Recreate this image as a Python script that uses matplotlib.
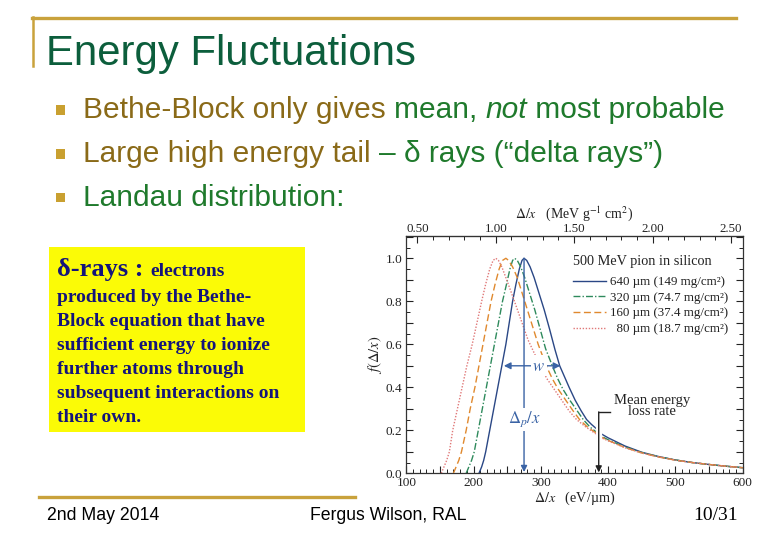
import matplotlib
matplotlib.use("Agg")
import matplotlib.pyplot as plt
import matplotlib.lines as mlines
import matplotlib.patches as mpatches
from matplotlib.ticker import MultipleLocator, FuncFormatter, FixedLocator

plt.rcParams['mathtext.fontset'] = 'stix'

W, H = 780, 540

# ---------------- data ----------------
x640 = [208, 212, 215, 218, 224, 230, 236, 242, 248, 253, 258, 263, 268, 272, 275, 279, 284, 290,
        297, 305, 313, 321, 328, 335, 342, 351, 360, 368, 375, 382, 390, 400, 425, 450, 475, 500,
        525, 550, 575, 600]
f640 = [0.0, 0.03, 0.06, 0.10, 0.20, 0.30, 0.40, 0.50, 0.60, 0.70, 0.80, 0.88, 0.95, 0.99, 1.0,
        0.99, 0.96, 0.91, 0.84, 0.76, 0.67, 0.575, 0.50, 0.45, 0.40, 0.34, 0.29, 0.25, 0.228,
        0.209, 0.183, 0.165, 0.127, 0.098, 0.078, 0.062, 0.050, 0.041, 0.033, 0.026]

x320 = [189, 193, 197, 201, 207, 213, 219, 225, 231, 237, 243, 249, 254, 258, 261, 265, 270, 276,
        283, 291, 299, 307, 317, 325, 333, 343, 353, 363, 373, 382, 390, 400, 425, 450, 475, 500,
        525, 550, 575, 600]
f320 = [0.0, 0.03, 0.06, 0.10, 0.20, 0.30, 0.40, 0.50, 0.60, 0.70, 0.80, 0.88, 0.95, 0.99, 1.0,
        0.99, 0.96, 0.91, 0.84, 0.76, 0.67, 0.58, 0.50, 0.44, 0.39, 0.34, 0.295, 0.25, 0.215,
        0.193, 0.172, 0.156, 0.122, 0.096, 0.077, 0.062, 0.050, 0.041, 0.033, 0.026]

x160 = [170, 174, 178, 182, 189, 195, 202, 208, 214, 220, 226, 232, 238, 243, 248, 252, 258, 265,
        272, 279, 287, 296, 308, 317, 326, 337, 348, 358, 370, 382, 390, 400, 425, 450, 475, 500,
        525, 550, 575, 600]
f160 = [0.0, 0.03, 0.06, 0.10, 0.20, 0.30, 0.40, 0.50, 0.60, 0.70, 0.80, 0.88, 0.95, 0.99, 1.0,
        0.99, 0.96, 0.91, 0.84, 0.77, 0.69, 0.60, 0.50, 0.44, 0.39, 0.34, 0.29, 0.248, 0.213,
        0.188, 0.168, 0.153, 0.120, 0.095, 0.076, 0.061, 0.050, 0.041, 0.033, 0.026]

x80 = [152, 156, 160, 164, 169, 176, 183, 190, 198, 205, 212, 218, 224, 229, 233, 237, 242, 248,
       255, 263, 272, 281, 290, 299, 309, 320, 331, 342, 353, 367, 382, 390, 400, 425, 450, 475,
       500, 525, 550, 575, 600]
f80 = [0.0, 0.03, 0.06, 0.10, 0.20, 0.30, 0.40, 0.50, 0.60, 0.70, 0.80, 0.88, 0.95, 0.99, 1.0,
       0.99, 0.96, 0.91, 0.85, 0.78, 0.70, 0.62, 0.56, 0.50, 0.44, 0.39, 0.34, 0.29, 0.25, 0.215,
       0.183, 0.165, 0.151, 0.119, 0.094, 0.076, 0.061, 0.050, 0.041, 0.033, 0.026]

series_labels = ["640 \u00b5m (149 mg/cm\u00b2)", "320 \u00b5m (74.7 mg/cm\u00b2)",
                 "160 \u00b5m (37.4 mg/cm\u00b2)", "  80 \u00b5m (18.7 mg/cm\u00b2)"]
legend_title = "500 MeV pion in silicon"
top_ticks = [0.5, 1.0, 1.5, 2.0, 2.5]

MPV_640 = 275          # most probable value, 640 um
W_LEFT, W_RIGHT = 245, 329   # full width at half maximum, 640 um
MEAN_LOSS = 386        # mean energy loss rate
DENSITY_FACTOR = 233.0  # eV/um per MeV g^-1 cm^2 (silicon)

bullets = [
    [("Bethe-Block only gives ", "#8a6a18", "normal"), ("mean, ", "#1f7a2c", "normal"),
     ("not", "#1f7a2c", "italic"), (" most probable", "#1f7a2c", "normal")],
    [("Large high energy tail ", "#8a6a18", "normal"),
     ("\u2013 \u03b4 rays (\u201cdelta rays\u201d)", "#1f7a2c", "normal")],
    [("Landau distribution:", "#1f7a2c", "normal")],
]
box_lines = ["produced by the Bethe-", "Block equation that have", "sufficient energy to ionize",
             "further atoms through", "subsequent interactions on", "their own."]

GOLD = "#c9a23c"

fig = plt.figure(figsize=(7.8, 5.4), dpi=100)
renderer = fig.canvas.get_renderer()


def fx(px):
    return px / W


def fy(py):
    return 1 - py / H


def text_width(s, **kw):
    t = fig.text(0, 0, s + "|", **kw)
    t2 = fig.text(0, 0, "|", **kw)
    w = t.get_window_extent(renderer).width - t2.get_window_extent(renderer).width
    t.remove()
    t2.remove()
    return w


# ---------------- slide decorations ----------------
fig.add_artist(mlines.Line2D([fx(32), fx(736)], [fy(17.5), fy(17.5)], color=GOLD, lw=2.4))
fig.add_artist(mlines.Line2D([fx(33), fx(33)], [fy(17), fy(66)], color=GOLD, lw=1.8))
fig.add_artist(mlines.Line2D([fx(39), fx(355)], [fy(496.5), fy(496.5)], color=GOLD, lw=2.4))

fig.text(fx(46), fy(65), "Energy Fluctuations", fontsize=30.2, family="Liberation Sans",
         color="#0c5e3c", va="baseline", ha="left")

bullet_base = [118.5, 162.5, 205.5]
for segs, yb in zip(bullets, bullet_base):
    fig.add_artist(mpatches.Rectangle((fx(56), fy(yb - 4)), 9 / W, 9 / H,
                                      transform=fig.transFigure, facecolor="#c9a030",
                                      edgecolor="none"))
    x = 83.0
    for s, c, st in segs:
        props = dict(fontsize=21.5, family="Liberation Sans", style=st)
        fig.text(fx(x), fy(yb), s, color=c, va="baseline", ha="left", **props)
        x += text_width(s, **props)

# yellow box
fig.add_artist(mpatches.Rectangle((fx(49), fy(432)), (305 - 49) / W, (432 - 247) / H,
                                  transform=fig.transFigure, facecolor="#fbfb06",
                                  edgecolor="none"))
NAVY = "#14147a"
p1 = dict(fontsize=19, family="Liberation Serif", weight="bold")
fig.text(fx(57), fy(276), "\u03b4-rays :", color=NAVY, va="baseline", **p1)
xw = 57 + text_width("\u03b4-rays : ", **p1)
fig.text(fx(xw), fy(276), "electrons", color=NAVY, va="baseline", fontsize=14,
         family="Liberation Serif", weight="bold")
for i, line in enumerate(box_lines):
    fig.text(fx(57), fy(301.5 + 24 * i), line, color=NAVY, va="baseline", fontsize=14,
             family="Liberation Serif", weight="bold")

# footer
fig.text(fx(47), fy(520), "2nd May 2014", fontsize=12.7, family="Liberation Sans",
         color="black", va="baseline")
fig.text(fx(310), fy(520), "Fergus Wilson, RAL", fontsize=12.7, family="Liberation Sans",
         color="black", va="baseline")
fig.text(fx(738), fy(520), "10/31", fontsize=14, family="Liberation Serif",
         color="black", va="baseline", ha="right")

# ---------------- chart ----------------
ax = fig.add_axes([406.3 / W, 1 - 473.3 / H, 336.4 / W, 237.6 / H])
ax.set_xlim(100, 600)
ax.set_ylim(0, 1.105)

styles = [
    dict(color="#2a4785", ls="-", lw=1.0),
    dict(color="#2e8a5c", ls=(0, (5, 1.5, 1, 1.5)), lw=1.0),
    dict(color="#e0892e", ls=(0, (5, 2.5)), lw=1.0),
    dict(color="#e07878", ls=(0, (1, 1.2)), lw=1.0),
]
handles = []
for (xs, ys), st, lab in zip([(x640, f640), (x320, f320), (x160, f160), (x80, f80)],
                             styles, series_labels):
    h, = ax.plot(xs, ys, label=lab, zorder=2, **st)
    handles.append(h)

TXT = "#222222"
BLUE = "#3a63a5"

# mean energy loss arrow (with white gap in curves)
ax.plot([MEAN_LOSS, MEAN_LOSS], [0.14, 0.26], color="white", lw=4.5, zorder=3,
        solid_capstyle="butt")
ax.plot([MEAN_LOSS, MEAN_LOSS + 17], [0.285, 0.285], color=TXT, lw=1.0, zorder=4)
ax.annotate("", xy=(MEAN_LOSS, 0.004), xytext=(MEAN_LOSS, 0.2855),
            arrowprops=dict(arrowstyle="-|>", color=TXT, lw=1.0, mutation_scale=9,
                            shrinkA=0, shrinkB=0), zorder=4)
ax.text(465, 0.312, "Mean energy\nloss rate", ha="center", va="center", fontsize=10.5,
        family="Liberation Serif", color=TXT, linespacing=0.8)

# most probable value arrow
ax.annotate("", xy=(MPV_640, 0.006), xytext=(MPV_640, 1.0),
            arrowprops=dict(arrowstyle="-|>", color=BLUE, lw=1.0, mutation_scale=9,
                            shrinkA=0, shrinkB=0), zorder=3)
ax.text(MPV_640, 0.25, r"$\Delta_p/x$", ha="center", va="center", fontsize=12, color=BLUE,
        zorder=5, bbox=dict(facecolor="white", edgecolor="none", pad=1.5))

# width arrow
ax.annotate("", xy=(W_LEFT, 0.5), xytext=(W_RIGHT, 0.5),
            arrowprops=dict(arrowstyle="<|-|>", color=BLUE, lw=1.0, mutation_scale=10,
                            shrinkA=0, shrinkB=0), zorder=3)
ax.text(297, 0.5, r"$w$", ha="center", va="center", fontsize=12, color=BLUE, zorder=5,
        bbox=dict(facecolor="white", edgecolor="none", pad=1.0))

# legend: title as text, entries below
LEG_X = (573 - 406.3) / 336.4
ax.text(LEG_X, (473.3 - 261.7) / 237.6, legend_title, transform=ax.transAxes, ha="left",
        va="center", fontsize=10.3, family="Liberation Serif", color=TXT)
leg = ax.legend(handles=handles, labels=series_labels,
                loc="upper left", bbox_to_anchor=(LEG_X, (473.3 - 276.0) / 237.6),
                frameon=False, prop=dict(family="Liberation Serif", size=9.4), borderpad=0,
                borderaxespad=0, handlelength=2.5, handletextpad=0.35, labelspacing=0.27)
for t in leg.get_texts():
    t.set_color(TXT)

# ticks
ax.xaxis.set_major_locator(MultipleLocator(50))
ax.xaxis.set_minor_locator(MultipleLocator(10))
ax.xaxis.set_major_formatter(FuncFormatter(lambda v, p: f"{v:.0f}" if abs(v % 100) < 1e-6 else ""))
ax.yaxis.set_major_locator(MultipleLocator(0.1))
ax.yaxis.set_minor_locator(MultipleLocator(0.05))
ax.yaxis.set_major_formatter(FuncFormatter(lambda v, p: f"{v:.1f}" if abs(round(v * 10) % 2) == 0 else ""))
ax.tick_params(which="both", direction="in", right=True, top=False, colors=TXT,
               labelsize=9.5, pad=3)
ax.tick_params(which="major", length=5, width=0.8)
ax.tick_params(which="minor", length=2.8, width=0.7)
for lab in ax.get_xticklabels() + ax.get_yticklabels():
    lab.set_fontfamily("Liberation Serif")
for sp in ax.spines.values():
    sp.set_color("#333333")
    sp.set_linewidth(0.9)

ax.set_xlabel("$\\Delta/x$   (eV/\u00b5m)", fontsize=10.2, family="Liberation Serif",
              color=TXT, labelpad=0)
ax.set_ylabel(r"$f(\Delta/x)$", fontsize=10.5, color=TXT, labelpad=1)

sec = ax.secondary_xaxis("top", functions=(lambda v: v / DENSITY_FACTOR,
                                           lambda m: m * DENSITY_FACTOR))
sec.xaxis.set_major_locator(FixedLocator(top_ticks))
sec.xaxis.set_minor_locator(FixedLocator([0.5 + 0.1 * i for i in range(21)]))
sec.xaxis.set_major_formatter(FuncFormatter(lambda v, p: f"{v:.2f}"))
sec.tick_params(which="both", direction="in", colors=TXT, labelsize=9.3, pad=0.5)
sec.tick_params(which="major", length=5, width=0.8)
sec.tick_params(which="minor", length=2.8, width=0.7)
for lab in sec.get_xticklabels():
    lab.set_fontfamily("Liberation Serif")
sec.spines["top"].set_color("#333333")
sec.set_xlabel(r"$\Delta/x$   (MeV g$^{-1}$ cm$^2$)", fontsize=10, family="Liberation Serif",
               color=TXT, labelpad=3.5)

fig.savefig("out.png", dpi=100)
